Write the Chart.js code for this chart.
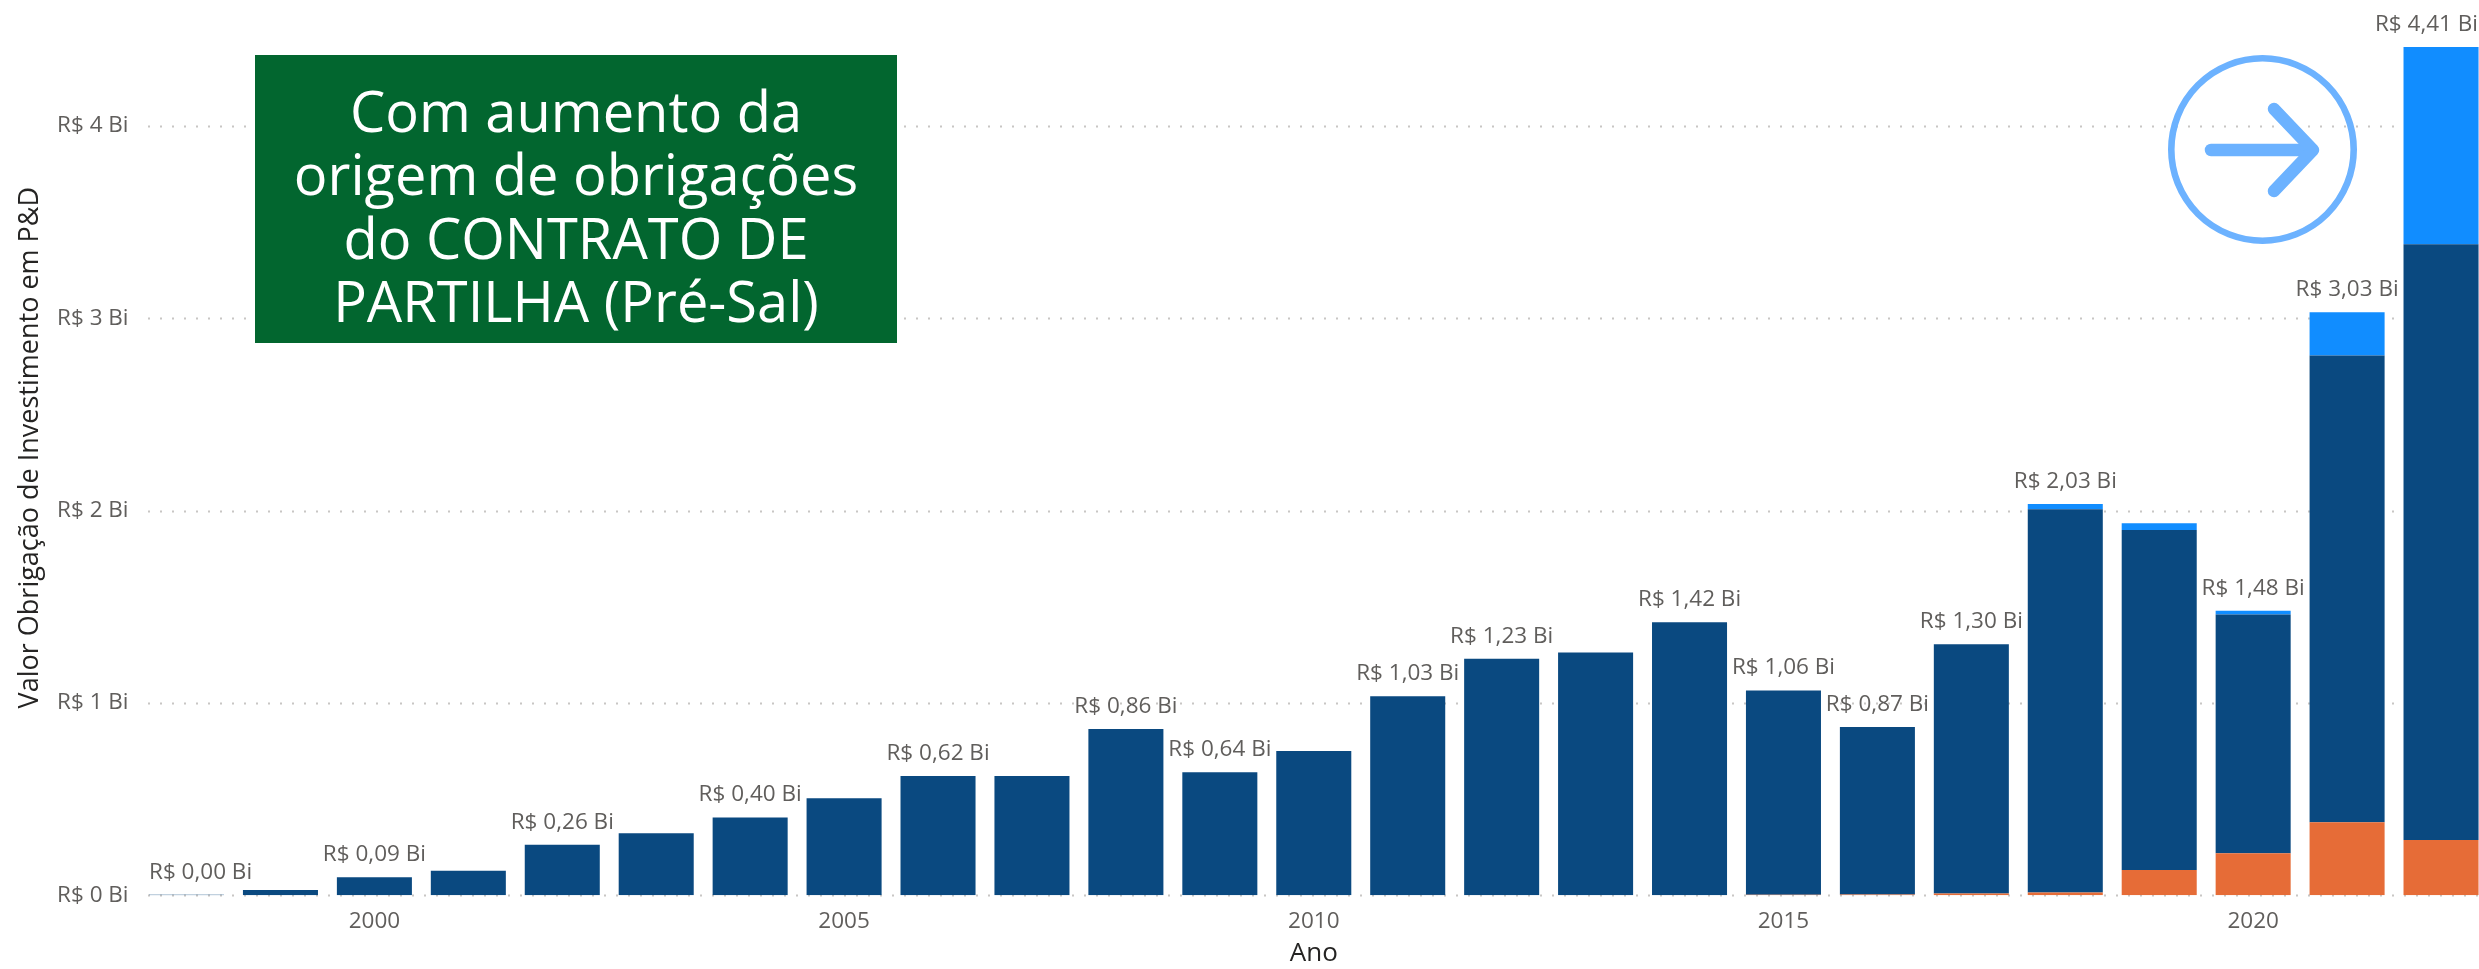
<!DOCTYPE html>
<html lang="pt-BR">
<head>
<meta charset="utf-8">
<title>Valor Obrigação de Investimento em P&amp;D</title>
<script src="https://cdn.jsdelivr.net/npm/chart.js@4/dist/chart.umd.min.js"></script>
<style>
    html, body { margin: 0; padding: 0; background: #fff; width: 2479px; height: 969px; overflow: hidden; }
    #wrap { position: relative; width: 2479px; height: 969px; overflow: hidden; }
    #grafico { position: absolute; left: 0; top: 0; }
    #caixa {
        position: absolute; left: 255px; top: 55px; width: 642px; height: 288px;
        background: #02662F; color: #fff; text-align: center;
        font-family: "Open Sans", sans-serif; font-size: 56px; line-height: 63.3px;
        padding-top: 24px; box-sizing: border-box;
    }
    #seta { position: absolute; left: 2160px; top: 47px; }
</style>
</head>
<body>
<div id="wrap">
    <canvas id="grafico" width="2488" height="969"></canvas>
    <div id="caixa">Com aumento da<br>origem de obrigações<br>do CONTRATO DE<br>PARTILHA (Pré-Sal)</div>
    <svg id="seta" width="205" height="205" viewBox="2160 47 205 205" fill="none" stroke="#6CB2FF">
        <circle cx="2262.5" cy="149.5" r="91.2" stroke-width="6.6"/>
        <path d="M2211 150 H2310" stroke-width="12.5" stroke-linecap="round"/>
        <path d="M2274 109 L2313 150 L2274 191" stroke-width="12.5" stroke-linecap="round" stroke-linejoin="round"/>
    </svg>
</div>
<script>
const anos = ["1998","1999","2000","2001","2002","2003","2004","2005","2006","2007","2008","2009","2010","2011","2012","2013","2014","2015","2016","2017","2018","2019","2020","2021","2022"];

// valores em R$ bilhoes
const contratoParticipacao = [0,0,0,0,0,0,0,0,0,0,0,0,0,0,0,0,0,0.003,0.004,0.009,0.014,0.132,0.218,0.38,0.288];
const contratoConcessao = [0.003,0.028,0.094,0.127,0.263,0.322,0.405,0.505,0.62,0.62,0.865,0.64,0.75,1.035,1.23,1.262,1.42,1.062,0.871,1.296,1.993,1.767,1.242,2.426,3.097];
const contratoPartilha = [0,0,0,0,0,0,0,0,0,0,0,0,0,0,0,0,0,0,0,0,0.028,0.035,0.02,0.225,1.025];

const rotulos = ["R$ 0,00 Bi",null,"R$ 0,09 Bi",null,"R$ 0,26 Bi",null,"R$ 0,40 Bi",null,"R$ 0,62 Bi",null,"R$ 0,86 Bi","R$ 0,64 Bi",null,"R$ 1,03 Bi","R$ 1,23 Bi",null,"R$ 1,42 Bi","R$ 1,06 Bi","R$ 0,87 Bi","R$ 1,30 Bi","R$ 2,03 Bi",null,"R$ 1,48 Bi","R$ 3,03 Bi","R$ 4,41 Bi"];
const ticksAno = ["2000","2005","2010","2015","2020"];
const ticksValor = ["R$ 0 Bi","R$ 1 Bi","R$ 2 Bi","R$ 3 Bi","R$ 4 Bi"];

const fonte = '"Open Sans", sans-serif';
const corTexto = "#605E5C";

// linhas pontilhadas do eixo Y, comecam na primeira barra
const gradePontilhada = {
    id: "gradePontilhada",
    beforeDatasetsDraw(chart) {
        const ctx = chart.ctx;
        const y = chart.scales.y;
        ctx.save();
        ctx.strokeStyle = "#C8C6C4";
        ctx.lineWidth = 2;
        ctx.setLineDash([2, 10]);
        y.ticks.forEach((t) => {
            const py = Math.round(y.getPixelForValue(t.value)) + 0.5;
            ctx.beginPath();
            ctx.moveTo(148, py);
            ctx.lineTo(2479, py);
            ctx.stroke();
        });
        ctx.restore();
    }
};

// rotulos de total em cima das barras, presos nas bordas do grafico
const rotulosTotal = {
    id: "rotulosTotal",
    afterDatasetsDraw(chart) {
        const ctx = chart.ctx;
        const x = chart.scales.x;
        const y = chart.scales.y;
        ctx.save();
        ctx.font = "22.5px " + fonte;
        ctx.fillStyle = corTexto;
        ctx.textAlign = "center";
        ctx.textBaseline = "middle";
        rotulos.forEach((texto, i) => {
            if (!texto) return;
            const total = contratoParticipacao[i] + contratoConcessao[i] + contratoPartilha[i];
            const meia = ctx.measureText(texto).width / 2;
            const px = Math.max(Math.min(x.getPixelForValue(i), 2478 - meia), 149 + meia);
            ctx.fillText(texto, px, y.getPixelForValue(total) - 22.5);
        });
        ctx.restore();
    }
};

new Chart(document.getElementById("grafico"), {
    type: "bar",
    data: {
        labels: anos,
        datasets: [
            { label: "Participação", data: contratoParticipacao, backgroundColor: "#E66C37" },
            { label: "Concessão", data: contratoConcessao, backgroundColor: "#0A4980" },
            { label: "Partilha", data: contratoPartilha, backgroundColor: "#118DFF" }
        ]
    },
    options: {
        responsive: false,
        animation: false,
        layout: { padding: 0 },
        datasets: { bar: { barPercentage: 0.7987, categoryPercentage: 1, borderWidth: 0 } },
        plugins: { legend: { display: false }, tooltip: { enabled: false } },
        scales: {
            x: {
                stacked: true,
                grid: { display: false, drawTicks: false },
                border: { display: false },
                afterFit(scale) { scale.height = 73.7; scale.paddingLeft = 0; scale.paddingRight = 0; },
                ticks: {
                    autoSkip: false,
                    maxRotation: 0,
                    padding: 13,
                    color: corTexto,
                    font: { family: fonte, size: 22.5 },
                    callback(value) {
                        const ano = anos[value];
                        return ticksAno.includes(ano) ? ano : "";
                    }
                },
                title: {
                    display: true,
                    text: "Ano",
                    color: "#252423",
                    font: { family: fonte, size: 26 },
                    padding: { top: 0, bottom: 0 }
                }
            },
            y: {
                stacked: true,
                min: 0,
                max: 4.655,
                grid: { display: false, drawTicks: false },
                border: { display: false },
                afterFit(scale) { scale.width = 139.55; scale.paddingTop = 0; scale.paddingBottom = 0; },
                ticks: {
                    stepSize: 1,
                    includeBounds: false,
                    padding: 11,
                    color: corTexto,
                    font: { family: fonte, size: 22.5 },
                    callback(value) { return ticksValor[value]; }
                },
                title: {
                    display: true,
                    text: "Valor Obrigação de Investimento em P&D",
                    color: "#252423",
                    font: { family: fonte, size: 27 },
                    padding: { top: 14, bottom: 0 }
                }
            }
        }
    },
    plugins: [gradePontilhada, rotulosTotal]
});
</script>
</body>
</html>
